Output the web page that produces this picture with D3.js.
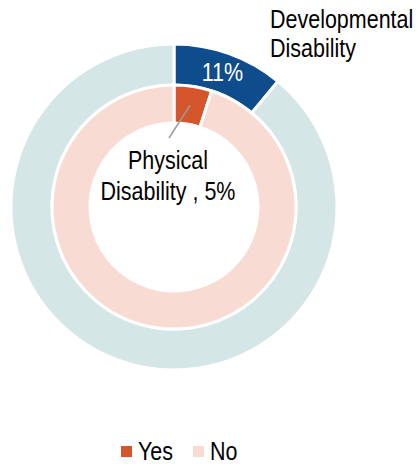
<!DOCTYPE html>
<html>
<head>
<style>
  body { margin: 0; background: #fff; }
  text { font-family: "Liberation Sans", Arial, sans-serif; }
</style>
</head>
<body>
<div id="chart"></div>
<script src="https://d3js.org/d3.v7.min.js"></script>
<script>
// two rings: outer = developmental disability, inner = physical disability
const answers = ["Yes", "No"];
const developmental = [11, 89];
const physical = [5, 95];

const width = 418, height = 466;
const cx = 174, cy = 207;
const narrow = 0.86; // squeeze text to look like a condensed face

const outerColor = d3.scaleOrdinal().domain(answers).range(["#0f4c8c", "#d5e6e6"]);
const innerColor = d3.scaleOrdinal().domain(answers).range(["#d4562a", "#f8dcd4"]);

const svg = d3.select("#chart").append("svg")
    .attr("width", width)
    .attr("height", height);

// text placed at (x,y) then condensed horizontally
function label(parent, x, y) {
    return parent.append("g")
        .attr("transform", `translate(${x},${y}) scale(${narrow},1)`)
        .append("text")
        .style("font-size", "25px");
}

const pie = d3.pie().sort(null);
const g = svg.append("g").attr("transform", `translate(${cx},${cy})`);

const outerArc = d3.arc().innerRadius(122).outerRadius(163);
const innerArc = d3.arc().innerRadius(84).outerRadius(122);

g.selectAll("path.outer")
    .data(pie(developmental))
    .join("path")
    .attr("class", "outer")
    .attr("d", outerArc)
    .attr("fill", (d, i) => outerColor(answers[i]))
    .attr("stroke", "#fff")
    .attr("stroke-width", 3);

g.selectAll("path.inner")
    .data(pie(physical))
    .join("path")
    .attr("class", "inner")
    .attr("d", innerArc)
    .attr("fill", (d, i) => innerColor(answers[i]))
    .attr("stroke", "#fff")
    .attr("stroke-width", 3);

// value label inside blue slice
const devSlice = pie(developmental)[0];
const c = d3.arc().innerRadius(143).outerRadius(143).centroid(devSlice);
label(g, c[0], c[1] + 9)
    .attr("text-anchor", "middle")
    .attr("fill", "#fff")
    .text(developmental[0] + "%");

label(svg, 270, 28)
    .selectAll("tspan")
    .data(["Developmental", "Disability"])
    .join("tspan")
    .attr("x", 0)
    .attr("y", (d, i) => i * 29)
    .text(d => d);

// leader line for physical
const phySlice = pie(physical)[0];
const pc = d3.arc().innerRadius(103).outerRadius(103).centroid(phySlice);
g.append("line")
    .attr("x1", pc[0])
    .attr("y1", pc[1])
    .attr("x2", -5)
    .attr("y2", -69)
    .attr("stroke", "#9a9a9a")
    .attr("stroke-width", 1.5);

label(g, -6, -38)
    .attr("text-anchor", "middle")
    .selectAll("tspan")
    .data(["Physical", "Disability , " + physical[0] + "%"])
    .join("tspan")
    .attr("x", 0)
    .attr("y", (d, i) => i * 31)
    .text(d => d);

// legend
const legend = svg.append("g").attr("transform", "translate(121,446)");
const items = legend.selectAll("g")
    .data(answers)
    .join("g")
    .attr("transform", (d, i) => `translate(${i * 72},0)`);
items.append("rect")
    .attr("width", 11)
    .attr("height", 11)
    .attr("fill", d => innerColor(d));
items.each(function (d) {
    label(d3.select(this), 17, 14).text(d);
});
</script>
</body>
</html>
